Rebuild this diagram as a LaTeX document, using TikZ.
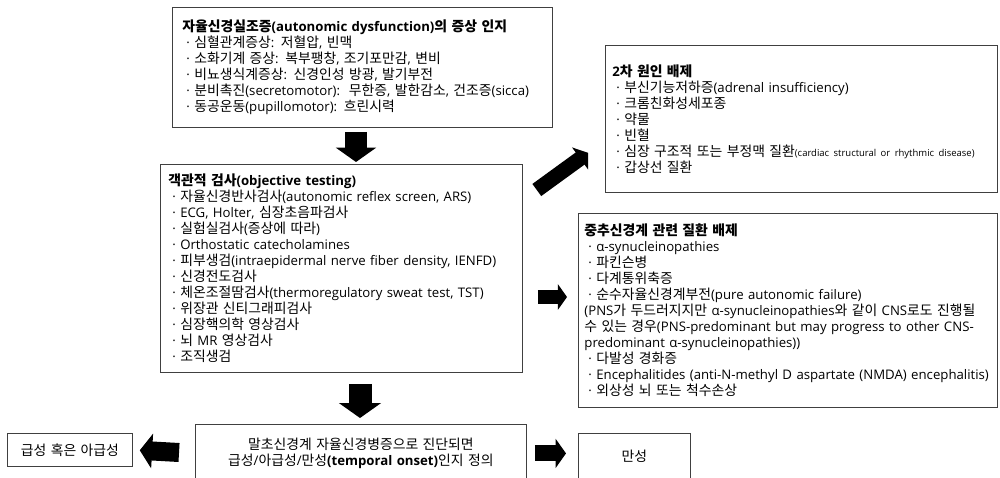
\documentclass[tikz,border=0pt]{standalone}
\usepackage{fontspec}
\setmainfont{Open Sans}
\newfontfamily\krfont[Scale=1.05]{Noto Sans CJK KR}
% hangul in the korean font
\XeTeXinterchartokenstate=1
\newXeTeXintercharclass\krclass
\newcount\hcode
\hcode="AC00
\loop
  \XeTeXcharclass\hcode=\krclass
  \advance\hcode by 1
\ifnum\hcode<"D7A4 \repeat
\XeTeXinterchartoks 0 \krclass = {\begingroup\krfont}
\XeTeXinterchartoks 4095 \krclass = {\begingroup\krfont}
\XeTeXinterchartoks \krclass 0 = {\endgroup}
\XeTeXinterchartoks \krclass 4095 = {\endgroup}
\usetikzlibrary{arrows.meta,calc}
\newcommand{\dotitem}{\hspace{4pt}·\ }
\tikzset{
  box/.style={draw=black!75, line width=0.8pt, anchor=north west, align=left,
    inner ysep=0pt, font=\fontsize{13.2pt}{16pt}\selectfont},
  blk/.style={line width=#1, -{Triangle[length=0pt .65, width=0pt 1.8]}},
}
\begin{document}
\begin{tikzpicture}[x=1pt,y=-1pt]
  \path[use as bounding box] (0,0) rectangle (1000,477);
  \clip (0,0) rectangle (1000,477);
  % boxes
  \node[box, inner xsep=10pt, text width=360pt, minimum height=120pt] (symp) at (172,7) {%
    \textbf{자율신경실조증(autonomic dysfunction)의 증상 인지}\\
    \dotitem 심혈관계증상: 저혈압, 빈맥\\
    \dotitem 소화기계 증상: 복부팽창, 조기포만감, 변비\\
    \dotitem 비뇨생식계증상: 신경인성 방광, 발기부전\\
    \mbox{\dotitem 분비촉진(secretomotor):\ \ 무한증, 발한감소, 건조증(sicca)}\\
    \dotitem 동공운동(pupillomotor): 흐린시력};
  \node[box, inner xsep=8pt, text width=346pt, minimum height=208pt] (test) at (160,164) {%
    \textbf{객관적 검사(objective testing)}\\
    \dotitem 자율신경반사검사(autonomic reflex screen, ARS)\\
    \dotitem ECG, Holter, 심장초음파검사\\
    \dotitem 실험실검사(증상에 따라)\\
    \dotitem Orthostatic catecholamines\\
    \mbox{\dotitem 피부생검(intraepidermal nerve fiber density, IENFD)}\\
    \dotitem 신경전도검사\\
    \dotitem 체온조절땀검사(thermoregulatory sweat test, TST)\\
    \dotitem 위장관 신티그래피검사\\
    \dotitem 심장핵의학 영상검사\\
    \dotitem 뇌 MR 영상검사\\
    \dotitem 조직생검};
  \node[box, inner xsep=7pt, text width=378pt, minimum height=147pt] (second) at (605,45) {%
    \textbf{2차 원인 배제}\\
    \dotitem 부신기능저하증(adrenal insufficiency)\\
    \dotitem 크롬친화성세포종\\
    \dotitem 약물\\
    \dotitem 빈혈\\
    \mbox{\dotitem 심장 구조적 또는 부정맥 질환{\fontsize{9.5pt}{10pt}\selectfont(cardiac structural or rhythmic disease)}}\\
    \dotitem 갑상선 질환};
  \node[box, inner xsep=6pt, text width=407pt, minimum height=194pt] (cns) at (578,213) {%
    \textbf{중추신경계 관련 질환 배제}\\
    \dotitem α-synucleinopathies\\
    \dotitem 파킨슨병\\
    \dotitem 다계통위축증\\
    \dotitem 순수자율신경계부전(pure autonomic failure)\\
    \mbox{(PNS가 두드러지지만 α-synucleinopathies와 같이 CNS로도 진행될}\\
    \mbox{수 있는 경우(PNS-predominant but may progress to other CNS-}\\
    predominant α-synucleinopathies))\\
    \dotitem 다발성 경화증\\
    \mbox{\dotitem Encephalitides (anti-N-methyl D aspartate (NMDA) encephalitis)}\\
    \dotitem 외상성 뇌 또는 척수손상};
  \node[box, align=center, inner xsep=8pt, text width=315pt, minimum height=58pt] (onset) at (195,424) {%
    말초신경계 자율신경병증으로 진단되면\\
    급성/아급성/만성\textbf{(temporal onset)}인지 정의};
  \node[box, align=center, inner xsep=4pt, text width=117pt, minimum height=33pt] (acute) at (7,433) {급성 혹은 아급성};
  \node[box, align=center, inner xsep=4pt, text width=104pt, minimum height=46pt] (chronic) at (578,433) {만성};
  % arrows
  \coordinate (c1) at (356,0);
  \coordinate (c2) at (360,0);
  \coordinate (c3) at (0,297);
  \draw[blk=22pt, shorten <=4pt, shorten >=2pt] (symp.south -| c1) -- (test.north -| c1);
  \draw[blk=23pt, shorten <=11pt, shorten >=6pt] (test.south -| c2) -- (onset.north -| c2);
  \draw[blk=15pt] ($(test.north east)+(14,26)$) -- ($(second.south west)+(-17,-40)$);
  \draw[blk=14pt, shorten <=15pt, shorten >=11pt] (test.east |- c3) -- (cns.west |- c3);
  \draw[blk=19pt, shorten <=16pt, shorten >=7pt] (onset.west) -- (acute.east);
  \draw[blk=16pt, shorten <=8pt, shorten >=12pt] (onset.east) -- (chronic.west |- onset.east);
\end{tikzpicture}
\end{document}
